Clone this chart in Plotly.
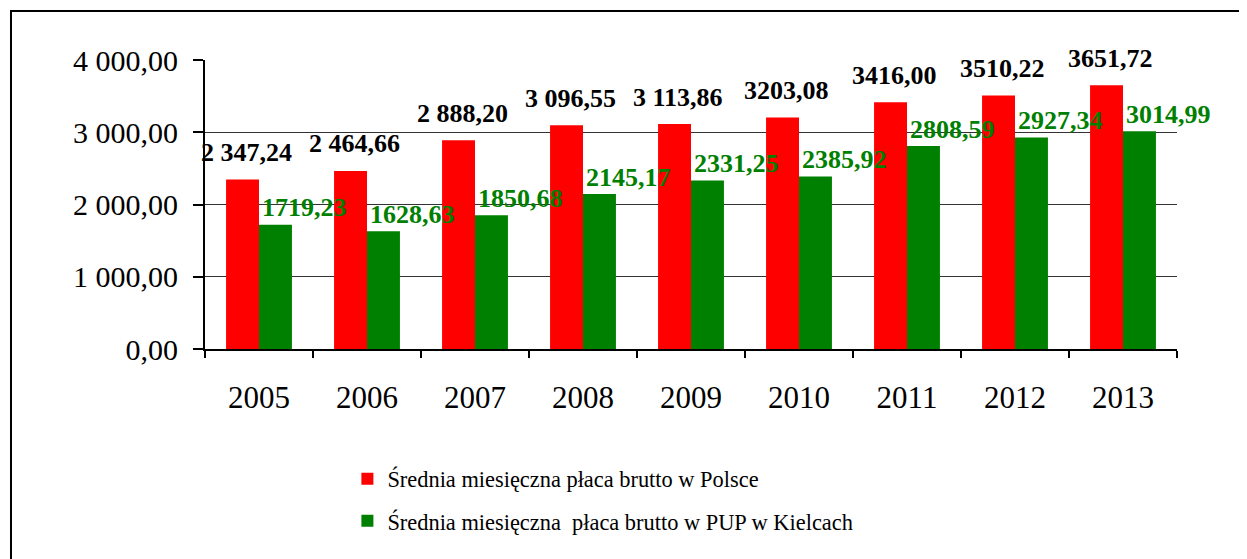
import plotly.graph_objects as go

#------------------------------------------------------------------------------
years        = ["2005", "2006", "2007", "2008", "2009", "2010", "2011", "2012", "2013"]
pl_values    = [2347.24, 2464.66, 2888.20, 3096.55, 3113.86, 3203.08, 3416.00, 3510.22, 3651.72]
pup_values   = [1719.23, 1628.63, 1850.68, 2145.17, 2331.25, 2385.92, 2808.59, 2927.34, 3014.99]
pl_labels    = ["2 347,24", "2 464,66", "2 888,20", "3 096,55", "3 113,86",
                "3203,08", "3416,00", "3510,22", "3651,72"]
pup_labels   = ["1719,23", "1628,63", "1850,68", "2145,17", "2331,25",
                "2385,92", "2808,59", "2927,34", "3014,99"]
y_ticks      = [0, 1000, 2000, 3000, 4000]
y_tick_text  = ["0,00", "1 000,00", "2 000,00", "3 000,00", "4 000,00"]
names        = ["Średnia miesięczna płaca brutto w Polsce",
                "Średnia miesięczna  płaca brutto w PUP w Kielcach"]

font_family = "Times New Roman, Liberation Serif, serif"

#------------------------------------------------------------------------------
fig = go.Figure()
fig.add_trace(go.Bar(x = years, y = pl_values, name = names[0],
                     marker = dict(color = "#FF0000", line = dict(width = 0)),
                     legendgroup = "a"))
fig.add_trace(go.Bar(x = years, y = pup_values, name = names[1],
                     marker = dict(color = "#008000", line = dict(width = 0)),
                     legendgroup = "b"))

# Data labels (offset like in the original); x given as category index
for i, (v, t) in enumerate(zip(pl_values, pl_labels)):
    fig.add_annotation(x = i, y = v, text = f"<b>{t}</b>", showarrow = False,
                       xshift = -13, yshift = 27, yanchor = "middle",
                       font = dict(family = font_family, size = 26, color = "black"))
for i, (v, t) in enumerate(zip(pup_values, pup_labels)):
    fig.add_annotation(x = i, y = v, text = f"<b>{t}</b>", showarrow = False,
                       xshift = 45, yshift = 17, yanchor = "middle",
                       font = dict(family = font_family, size = 26, color = "#008000"))

# Outer frame
fig.add_shape(type = "rect", xref = "paper", yref = "paper",
              x0 = (11 - 205) / 972, x1 = (1244 - 205) / 972,
              y0 = (349 - 600) / 289, y1 = (349 - 11) / 289,
              line = dict(color = "black", width = 2), layer = "above")

fig.update_layout(
    width = 1247, height = 559,
    margin = dict(l = 197, r = 78, t = 52, b = 218, autoexpand = False),
    plot_bgcolor = "white", paper_bgcolor = "white",
    barmode = "group", bargap = 0.39, bargroupgap = 0,
    font = dict(family = font_family, size = 30, color = "black"),
    showlegend = True,
    legend = dict(x = 0.1465, y = -0.376, xanchor = "left", yanchor = "top",
                  traceorder = "grouped", tracegroupgap = 10,
                  font = dict(family = font_family, size = 22.4, color = "black"),
                  bgcolor = "rgba(0,0,0,0)"),
)
fig.update_xaxes(type = "category", range = [-0.5, len(years) - 0.5],
                 showgrid = False, tickson = "boundaries", tickangle = 0,
                 ticks = "outside", ticklen = 7, tickwidth = 2, tickcolor = "black",
                 showline = True, linecolor = "black", linewidth = 2,
                 tickfont = dict(size = 31), ticklabelstandoff = 20)
fig.update_yaxes(range = [0, 4000], tickvals = y_ticks, ticktext = y_tick_text,
                 showgrid = True, gridcolor = "#333333", gridwidth = 1,
                 ticks = "outside", ticklen = 10, tickwidth = 2, tickcolor = "black",
                 showline = True, linecolor = "black", linewidth = 2,
                 zeroline = False, tickfont = dict(size = 30), ticklabelstandoff = 9)

fig.write_html("out.html")
